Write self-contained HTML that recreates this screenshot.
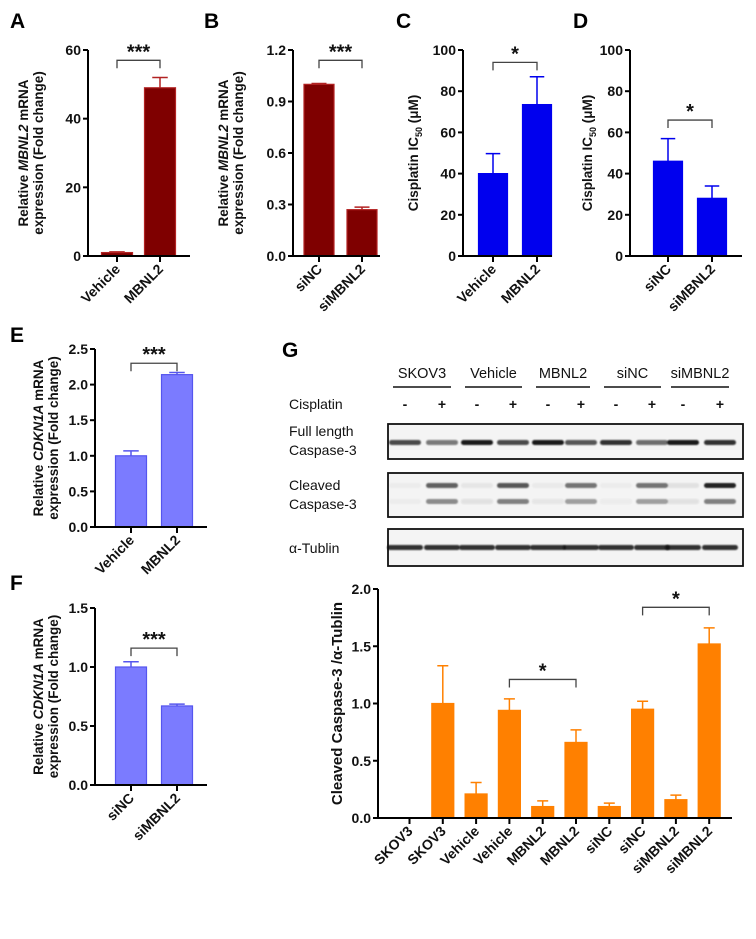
<!DOCTYPE html>
<html><head><meta charset="utf-8">
<style>
body{margin:0;background:#fff;}
svg{display:block;font-family:"Liberation Sans",Arial,sans-serif;font-weight:bold;}
</style></head>
<body>
<svg id="fig" width="756" height="939" viewBox="0 0 756 939" xmlns="http://www.w3.org/2000/svg">
<defs><filter id="blur" x="-20%" y="-100%" width="140%" height="300%"><feGaussianBlur stdDeviation="0.9"/></filter></defs>
</svg>
<script>
// ---- data ----
const catsA=["Vehicle","MBNL2"]; const valsA=[1,49]; const errsA=[1.2,52];
const catsB=["siNC","siMBNL2"]; const valsB=[1.0,0.27]; const errsB=[1.005,0.285];
const ticksA=[0,20,40,60]; const ticksB=[0.0,0.3,0.6,0.9,1.2];
const catsC=["Vehicle","MBNL2"]; const valsC=[40,73.5]; const errsC=[49.7,87];
const catsD=["siNC","siMBNL2"]; const valsD=[46,28]; const errsD=[57,34];
const ticksCD=[0,20,40,60,80,100];
const catsE=["Vehicle","MBNL2"]; const valsE=[1.0,2.14]; const errsE=[1.07,2.17];
const ticksE=[0.0,0.5,1.0,1.5,2.0,2.5];
const catsF=["siNC","siMBNL2"]; const valsF=[1.0,0.67]; const errsF=[1.045,0.685];
const ticksF=[0.0,0.5,1.0,1.5];
const catsG=["SKOV3","SKOV3","Vehicle","Vehicle","MBNL2","MBNL2","siNC","siNC","siMBNL2","siMBNL2"];
const valsG=[0,1.0,0.21,0.94,0.10,0.66,0.10,0.95,0.16,1.52];
const errsG=[0,1.33,0.31,1.04,0.15,0.77,0.13,1.02,0.20,1.66];
const ticksG=[0.0,0.5,1.0,1.5,2.0];

const NS="http://www.w3.org/2000/svg";
const svg=document.getElementById('fig');
function mk(tag,attrs,parent,txt){const e=document.createElementNS(NS,tag);for(const k in attrs)e.setAttribute(k,attrs[k]);if(txt!==undefined)e.textContent=txt;(parent||svg).appendChild(e);return e;}
function fmt(v,dec){return dec?v.toFixed(dec):String(v);}

function panel(p){
  const g=mk('g',{});
  
  
  const Y=v=>p.y0-(v/p.max)*(p.y0-p.yTop);
  const X=i=>p.c0+i*p.step;
  p.vals.forEach((v,i)=>{
    const x=X(i), y=Y(v);
    if(v>0){
      const r=mk('rect',{x:x-p.bw/2,y:y,width:p.bw,height:p.y0-y,fill:p.fill,stroke:p.stroke,'stroke-width':1.2},g);
      
      
      const ey=Y(p.errs[i]);
      const e=mk('path',{d:`M${x} ${y}V${ey}M${x-p.bw/4} ${ey}H${x+p.bw/4}`,stroke:p.stroke,'stroke-width':1.5,fill:'none'},g);
      
      
    }
  });
  const ax=mk('path',{d:`M${p.ax} ${p.yTop}V${p.y0}H${p.xEnd}`,stroke:'#000','stroke-width':2,fill:'none'},g);
  
  
  p.ticks.forEach(t=>{
    const y=Y(t);
    mk('line',{x1:p.ax-5,x2:p.ax,y1:y,y2:y,stroke:'#000','stroke-width':2},g);
    const tl=mk('text',{x:p.ax-7,y:y+5,'text-anchor':'end','font-size':p.fs||14,fill:'#111'},g,fmt(t,p.dec));
    
    
  });
  p.cats.forEach((c,i)=>{
    const x=X(i);
    mk('line',{x1:x,x2:x,y1:p.y0,y2:p.y0+6,stroke:'#000','stroke-width':2},g);
    const xl=mk('text',{x:x+4,y:p.y0+14,'text-anchor':'end','font-size':p.fs||14,fill:'#111',transform:`rotate(-45 ${x+4} ${p.y0+14})`},g,c);
    
    
  });
  const cy=(p.y0+p.yTop)/2;
  p.ylab.forEach((ln,k)=>{
    const t=mk('text',{x:p.ylx[k],y:cy,'text-anchor':'middle','font-size':p.tfs||13.5,fill:'#111',transform:`rotate(-90 ${p.ylx[k]} ${cy})`},g);
    t.innerHTML=ln;
    
    
  });
  (p.br||[]).forEach(b=>{
    const x1=X(b.i), x2=X(b.j), y=Y(b.v);
    const br=mk('path',{d:`M${x1} ${y+8}V${y}H${x2}V${y+8}`,stroke:'#444','stroke-width':1.3,fill:'none'},g);
    
    
    const st=mk('text',{x:(x1+x2)/2,y:y-2,'text-anchor':'middle','font-size':20,fill:'#111'},g,b.s);
    
    
  });
  const L=mk('text',{x:p.lx,y:p.ly,'font-size':21,fill:'#000'},g,p.letter);
  
  
}

const red='#7f0000', redS='#b22222', blue='#0000ee', lav='#7b7bff', lavS='#5555ee', org='#ff8000';
panel({name:'panel-a',letter:'A',lx:10,ly:28,ax:88,y0:256,yTop:50,max:60,xEnd:190,c0:117,step:43,bw:31,cats:catsA,vals:valsA,errs:errsA,ticks:ticksA,fill:red,stroke:redS,
  ylab:['Relative <tspan font-style="italic">MBNL2</tspan> mRNA','expression (Fold change)'],ylx:[28,43],br:[{i:0,j:1,v:57,s:'***'}]});
panel({name:'panel-b',letter:'B',lx:204,ly:28,ax:293,y0:256,yTop:50,max:1.2,dec:1,xEnd:380,c0:319,step:43,bw:30,cats:catsB,vals:valsB,errs:errsB,ticks:ticksB,fill:red,stroke:redS,
  ylab:['Relative <tspan font-style="italic">MBNL2</tspan> mRNA','expression (Fold change)'],ylx:[228,243],br:[{i:0,j:1,v:1.14,s:'***'}]});
panel({name:'panel-c',letter:'C',lx:396,ly:28,ax:463,y0:256,yTop:50,max:100,xEnd:552,c0:493,step:44,bw:29,cats:catsC,vals:valsC,errs:errsC,ticks:ticksCD,fill:blue,stroke:blue,
  ylab:['Cisplatin IC<tspan font-size="9" dy="4">50</tspan><tspan dy="-4"> (μM)</tspan>'],ylx:[418],br:[{i:0,j:1,v:94,s:'*'}]});
panel({name:'panel-d',letter:'D',lx:573,ly:28,ax:630,y0:256,yTop:50,max:100,xEnd:742,c0:668,step:44,bw:29,cats:catsD,vals:valsD,errs:errsD,ticks:ticksCD,fill:blue,stroke:blue,
  ylab:['Cisplatin IC<tspan font-size="9" dy="4">50</tspan><tspan dy="-4"> (μM)</tspan>'],ylx:[592],br:[{i:0,j:1,v:66,s:'*'}]});
panel({name:'panel-e',letter:'E',lx:10,ly:342,ax:95,y0:527,yTop:349,max:2.5,dec:1,xEnd:207,c0:131,step:46,bw:31,cats:catsE,vals:valsE,errs:errsE,ticks:ticksE,fill:lav,stroke:lavS,
  ylab:['Relative <tspan font-style="italic">CDKN1A</tspan> mRNA','expression (Fold change)'],ylx:[43,58],br:[{i:0,j:1,v:2.3,s:'***'}]});
panel({name:'panel-f',letter:'F',lx:10,ly:590,ax:95,y0:785,yTop:608,max:1.5,dec:1,xEnd:207,c0:131,step:46,bw:31,cats:catsF,vals:valsF,errs:errsF,ticks:ticksF,fill:lav,stroke:lavS,
  ylab:['Relative <tspan font-style="italic">CDKN1A</tspan> mRNA','expression (Fold change)'],ylx:[43,58],br:[{i:0,j:1,v:1.16,s:'***'}]});
panel({name:'panel-g-chart',letter:'G',lx:282,ly:357,ax:378,y0:818,yTop:589,max:2.0,dec:1,xEnd:732,c0:409.5,step:33.3,bw:22,cats:catsG,vals:valsG,errs:errsG,ticks:ticksG,fill:org,stroke:org,tfs:15,
  ylab:['Cleaved Caspase-3 /α-Tublin'],ylx:[342],br:[{i:3,j:5,v:1.21,s:'*'},{i:7,j:9,v:1.84,s:'*'}]});

// ---- western blot ----
const groups=["SKOV3","Vehicle","MBNL2","siNC","siMBNL2"];
const lanes=[405,442,477,513,548,581,616,652,683,720];
const wb=mk('g',{});


groups.forEach((gname,k)=>{
  const x1=lanes[2*k]-12,x2=lanes[2*k+1]+9;
  const t=mk('text',{x:(x1+x2)/2,y:378,'text-anchor':'middle','font-size':14.5,'font-weight':'normal',fill:'#111'},wb,gname);
  
  
  mk('line',{x1:x1,x2:x2,y1:387,y2:387,stroke:'#111','stroke-width':1.5},wb);
});
const lab=(txt,x,y)=>{const t=mk('text',{x:x,y:y,'font-size':14,'font-weight':'normal',fill:'#111'},wb,txt);};
lab('Cisplatin',289,409);lab('Full length',289,436);lab('Caspase-3',289,455);lab('Cleaved',289,490);lab('Caspase-3',289,509);lab('α-Tublin',289,553);
lanes.forEach((x,i)=>{mk('text',{x:x,y:409,'text-anchor':'middle','font-size':14,fill:'#111'},wb,i%2?'+':'-');});
[[424,459],[473,517],[529,566]].forEach(([a,b])=>{
  const r=mk('rect',{x:388,y:a,width:355,height:b-a,fill:'#f4f4f4',stroke:'#111','stroke-width':1.8},wb);
  
  
});
const fl=[0.75,0.55,0.95,0.75,0.95,0.7,0.85,0.6,0.95,0.85];
const c1=[0.03,0.7,0.06,0.75,0.04,0.6,0.03,0.6,0.08,1];
const c2=[0.03,0.55,0.1,0.6,0.08,0.45,0.05,0.45,0.1,0.6];
lanes.forEach((x,i)=>{
  mk('rect',{x:x-16,y:440,width:32,height:5,rx:2.5,fill:'#111','fill-opacity':fl[i],filter:'url(#blur)'},wb);
  mk('rect',{x:x-16,y:483,width:32,height:5,rx:2.5,fill:'#222','fill-opacity':c1[i],filter:'url(#blur)'},wb);
  mk('rect',{x:x-16,y:499,width:32,height:5,rx:2.5,fill:'#333','fill-opacity':c2[i],filter:'url(#blur)'},wb);
  mk('rect',{x:x-18,y:545,width:36,height:5,rx:2.5,fill:'#111','fill-opacity':0.85,filter:'url(#blur)'},wb);
});
</script>
</body></html>
